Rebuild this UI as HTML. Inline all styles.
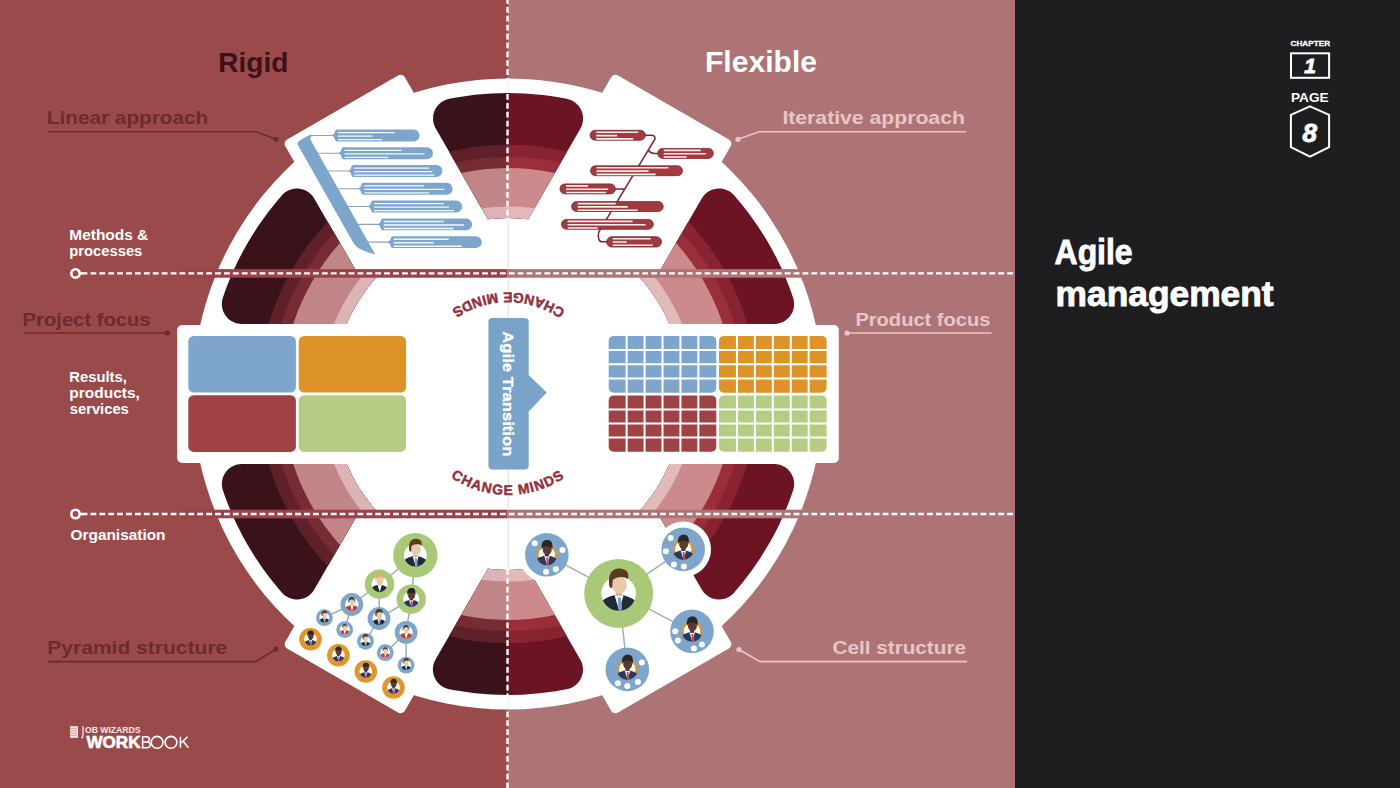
<!DOCTYPE html>
<html><head><meta charset="utf-8">
<style>
html,body{margin:0;padding:0;width:1400px;height:788px;overflow:hidden;background:#1e1e20}
svg{display:block}
text{font-family:"Liberation Sans",sans-serif;font-weight:bold}
</style></head>
<body>
<svg width="1400" height="788" viewBox="0 0 1400 788">
<defs>
<clipPath id="pc"><circle cx="0" cy="0" r="10"/></clipPath>
<g id="p_light">
<g clip-path="url(#pc)"><path d="M-11 14L-11 6C-9.5 3.4-6 1.8-2.6 1L2.6 1C6 1.8 9.5 3.4 11 6L11 14Z" fill="#1f2a38"/>
<path d="M-2.4 1L0.3 10L2.8 1Z" fill="#fff"/><path d="M-0.6 2.4L1.2 2.4L2 8.5L1 11L-0.2 8.5Z" fill="#7e9fbf"/></g>
<rect x="-1.8" y="-2" width="3.8" height="3.4" fill="#d9b596"/>
<ellipse cx="0.4" cy="-5" rx="4.3" ry="5" fill="#e8caa9"/>
<path d="M-5.2-3.5C-6.8-12-3-14.6 0.5-14.4C4.5-14.2 6.2-12 5.4-8.3C3-10-1-10-3.4-7.8L-3.8-3Z" fill="#5c3a22"/>
</g>
<g id="p_blond">
<g clip-path="url(#pc)"><path d="M-11 14L-11 6C-9.5 3.4-6 1.8-2.6 1L2.6 1C6 1.8 9.5 3.4 11 6L11 14Z" fill="#1f2a38"/>
<path d="M-2.4 1L0.3 10L2.8 1Z" fill="#fff"/></g>
<rect x="-1.8" y="-2" width="3.8" height="3.4" fill="#d9b596"/>
<ellipse cx="0.4" cy="-5" rx="4.3" ry="5" fill="#e8caa9"/>
<path d="M-5-4C-6.5-12-3-14.4 0.5-14.2C4.5-14 6.2-12 5.2-6C3-10-1-10-3.4-7.8Z" fill="#d9b272"/>
</g>
<g id="p_dark">
<g clip-path="url(#pc)"><path d="M-11 14L-11 6C-9.5 3.4-6 1.8-2.6 1L2.6 1C6 1.8 9.5 3.4 11 6L11 14Z" fill="#2b3a5c"/>
<path d="M-2.4 1L0.3 10L2.8 1Z" fill="#fff"/><path d="M-0.6 2.4L1.2 2.4L2 8.5L1 11L-0.2 8.5Z" fill="#c24a56"/></g>
<rect x="-1.8" y="-2" width="3.8" height="3.4" fill="#4a3028"/>
<ellipse cx="0.4" cy="-5" rx="4.3" ry="5" fill="#5c3b2e"/>
<path d="M-4.8-5C-5.8-12.5-2.5-14 0.5-14C4-14 6-12 5.3-5C4.4-9.5-3.6-9.5-4.8-5Z" fill="#2a2624"/>
</g>
<g id="p_red">
<g clip-path="url(#pc)"><path d="M-11 14L-11 6C-9.5 3.4-6 1.8-2.6 1L2.6 1C6 1.8 9.5 3.4 11 6L11 14Z" fill="#b8433f"/>
<path d="M-2.4 1L0.3 10L2.8 1Z" fill="#fff"/></g>
<rect x="-1.8" y="-2" width="3.8" height="3.4" fill="#d9b596"/>
<ellipse cx="0.4" cy="-5" rx="4.3" ry="5" fill="#e8caa9"/>
<path d="M-5.2-2C-7-13 5.5-15 5.4-2C4-10-3.8-10-5.2-2Z" fill="#3a2a24"/>
</g>
</defs>
<rect x="0" y="0" width="507.5" height="788" fill="#9a4a4b"/>
<rect x="507.5" y="0" width="507.5" height="788" fill="#ae7475"/>
<rect x="1015" y="0" width="385" height="788" fill="#1e1e20"/>
<circle cx="508" cy="394" r="315.5" fill="#fff"/>
<path fill="#3a131a" d="M313.77 197.64 L312.02 195.31 L309.19 192.64 L305.9 190.58 L302.27 189.19 L298.45 188.52 L295.53 188.52 L291.7 189.17 L288.07 190.55 L285.56 192.04 L283.29 193.87 L277.72 200.16 L268.42 211.79 L258.72 225.29 L252.75 234.48 L247.91 242.49 L242.57 252.06 L238.29 260.37 L233.6 270.28 L229.89 278.87 L225.88 289.07 L222.58 298.48 L221.98 301.34 L221.84 305.22 L222.23 308.12 L223.04 310.92 L224.25 313.58 L225.83 316.03 L228.46 318.9 L230.77 320.68 L233.32 322.11 L236.04 323.15 L240.83 323.98 L346.52 324 L349.83 316.8 L353.29 310.08 L357.04 303.52 L361.06 297.12 L365.36 290.9 L369.92 284.87 L374.73 279.04 L379.81 273.4 L357.54 273.4ZM379.25 514 L373.33 507.31 L368.59 501.43 L360.47 489.98 L356.49 483.55 L352.78 476.97 L346.52 464 L241.8 464 L238.89 464.21 L236.04 464.85 L233.32 465.89 L230.77 467.32 L228.46 469.1 L226.43 471.2 L224.73 473.58 L223.04 477.08 L222.23 479.88 L221.82 484.72 L222.33 488.58 L224.57 495.35 L227.86 504.11 L232.8 515.92 L237.53 526.08 L243.39 537.46 L248.85 547.1 L255.66 558.09 L262.94 568.77 L269.61 577.77 L277.72 587.84 L282.6 593.45 L284.77 595.39 L288.95 597.86 L292.64 599.06 L295.53 599.48 L298.45 599.48 L303.21 598.53 L305.9 597.42 L308.41 595.93 L310.67 594.09 L312.64 591.94 L314.28 589.53 L357.89 514ZM445.3 99.97 L441.08 102.36 L438.2 104.96 L435.88 108.06 L434.2 111.56 L433.22 115.31 L433.05 120.15 L433.75 123.97 L435.18 127.57 L487.92 219.15 L497.21 218.33 L507.5 218 L507.5 93 L491.32 93.46 L474.76 94.84 L456.48 97.44 L449.01 98.84ZM433.92 663.07 L433.03 666.84 L432.85 669.75 L433.26 673.61 L434.42 677.31 L436.27 680.73 L438.74 683.72 L441.75 686.17 L445.17 688 L448.88 689.14 L456.48 690.56 L474.76 693.16 L491.32 694.54 L507.5 695 L507.5 570 L497.21 569.67 L487.88 568.85 L435.52 659.53Z"/>
<path fill="#6c1424" d="M731.23 192.61 L728.79 191.01 L725.23 189.45 L721.44 188.61 L718.53 188.47 L714.67 188.95 L711.88 189.79 L708.4 191.53 L706.05 193.26 L703.98 195.31 L701.72 198.47 L658.46 273.4 L636.19 273.4 L641.27 279.04 L646.08 284.87 L650.64 290.9 L654.94 297.12 L658.96 303.52 L662.71 310.08 L666.17 316.8 L669.48 324 L776.14 323.91 L780.88 322.85 L783.56 321.68 L786.03 320.12 L789.57 316.8 L792.2 312.71 L793.27 310 L794.08 306.2 L794.12 302.31 L793.42 298.48 L789.51 287.45 L785.4 277.16 L780.91 267.03 L776.05 257.07 L771.67 248.81 L766.21 239.31 L760.34 229.91 L755.12 222.14 L748.7 213.26 L741.88 204.53 L734.06 195.27ZM703.98 592.69 L706.81 595.36 L709.24 596.97 L711.88 598.21 L715.62 599.24 L719.5 599.53 L723.36 599.06 L726.15 598.23 L729.63 596.5 L733.4 593.45 L743.04 582.03 L751.98 570.28 L760.34 558.09 L769.93 542.31 L775.15 532.68 L779.28 524.42 L786.81 507.42 L790.16 498.82 L793.42 489.52 L794.12 485.69 L794.16 482.78 L793.77 479.88 L792.96 477.08 L791.27 473.58 L789.57 471.2 L787.54 469.1 L785.23 467.32 L782.68 465.89 L779.96 464.85 L775.17 464.02 L669.48 464 L663.22 476.97 L659.51 483.55 L655.53 489.98 L651.27 496.22 L646.75 502.28 L641.97 508.14 L636.75 514 L658.11 514 L701.72 589.53ZM507.1 218 L517.71 218.27 L528.12 219.15 L580.48 128.47 L582.08 124.93 L582.97 121.16 L583.12 117.28 L582.25 112.51 L580.74 108.94 L578.57 105.72 L575.81 102.98 L572.59 100.83 L569.92 99.65 L566.66 98.77 L555.76 96.81 L543.07 95.05 L524.68 93.46 L507.1 93ZM507.1 695 L522.83 694.63 L539.28 693.37 L555.76 691.19 L568.87 688.69 L571.59 687.63 L574.12 686.2 L576.42 684.41 L578.43 682.31 L580.12 679.94 L581.45 677.35 L582.78 672.69 L583.03 669.79 L582.85 666.88 L581.96 663.11 L580.82 660.43 L528.08 568.85 L517.71 569.73 L507.1 570Z"/>
<path fill="#60202a" d="M327.74 221.79 L317.24 233.49 L307.76 245.49 L299.87 256.77 L291.85 269.79 L284.64 283.28 L278.86 295.78 L273.27 310.01 L268.73 324 L346.52 324 L349.83 316.8 L353.29 310.08 L357.04 303.52 L361.06 297.12 L365.36 290.9 L369.92 284.87 L374.73 279.04 L379.81 273.4 L357.54 273.4ZM379.25 514 L373.33 507.31 L368.59 501.43 L360.47 489.98 L356.49 483.55 L352.78 476.97 L346.52 464 L268.73 464 L273.27 477.99 L278.86 492.22 L284.64 504.72 L291.85 518.21 L299.87 531.23 L308.68 543.73 L318.23 555.67 L327.74 566.21 L357.89 514ZM487.92 219.15 L498.29 218.27 L507.5 218 L507.5 144.7 L492.71 145.17 L477.48 146.57 L463.87 148.64 L449.09 151.76ZM507.5 570 L497.21 569.67 L487.88 568.85 L448.99 636.21 L463.87 639.36 L477.48 641.43 L492.71 642.83 L507.5 643.3Z"/>
<path fill="#882431" d="M636.19 273.4 L641.27 279.04 L646.08 284.87 L650.64 290.9 L654.94 297.12 L658.96 303.52 L662.71 310.08 L666.17 316.8 L669.48 324 L747.27 324 L742.73 310.01 L737.14 295.78 L730.68 281.91 L724.15 269.79 L716.13 256.77 L707.32 244.27 L697.77 232.33 L688.26 221.79 L658.46 273.4ZM669.48 464 L666.17 471.2 L662.71 477.92 L658.96 484.48 L654.94 490.88 L650.64 497.1 L646.08 503.13 L636.75 514 L658.11 514 L688.26 566.21 L697.77 555.67 L707.32 543.73 L716.13 531.23 L724.15 518.21 L731.36 504.72 L737.14 492.22 L742.73 477.99 L747.27 464ZM507.1 218 L517.71 218.27 L528.12 219.15 L567.01 151.79 L552.13 148.64 L537 146.39 L521.76 145.08 L507.1 144.7ZM528.08 568.85 L517.71 569.73 L507.1 570 L507.1 643.3 L521.76 642.92 L537 641.61 L552.13 639.36 L566.91 636.24Z"/>
<path fill="#772c34" d="M334.11 232.82 L324.72 243.59 L316.7 253.93 L309.26 264.7 L302.42 275.87 L296.22 287.4 L290.66 299.25 L285.76 311.39 L281.47 324 L346.52 324 L349.83 316.8 L353.29 310.08 L357.04 303.52 L361.06 297.12 L365.36 290.9 L369.92 284.87 L374.73 279.04 L379.81 273.4 L357.54 273.4ZM379.25 514 L373.33 507.31 L368.59 501.43 L360.47 489.98 L356.49 483.55 L352.78 476.97 L346.52 464 L281.47 464 L285.76 476.61 L290.66 488.75 L296.22 500.6 L302.42 512.13 L309.26 523.3 L316.7 534.07 L324.72 544.41 L334.11 555.18 L357.89 514ZM487.92 219.15 L498.29 218.27 L507.5 218 L507.5 156.9 L494.91 157.26 L481.87 158.34 L468.9 160.15 L455.45 162.8ZM507.5 570 L497.21 569.67 L487.88 568.85 L455.36 625.18 L468.9 627.85 L481.87 629.66 L494.91 630.74 L507.5 631.1Z"/>
<path fill="#9b2f39" d="M636.19 273.4 L641.27 279.04 L646.08 284.87 L650.64 290.9 L654.94 297.12 L658.96 303.52 L662.71 310.08 L666.17 316.8 L669.48 324 L734.53 324 L730.24 311.39 L725.34 299.25 L719.78 287.4 L713.58 275.87 L706.74 264.7 L699.3 253.93 L691.28 243.59 L681.89 232.82 L658.46 273.4ZM669.48 464 L666.17 471.2 L662.71 477.92 L658.96 484.48 L654.94 490.88 L650.64 497.1 L646.08 503.13 L636.75 514 L658.11 514 L681.89 555.18 L691.28 544.41 L699.3 534.07 L706.74 523.3 L713.58 512.13 L719.78 500.6 L725.34 488.75 L730.24 476.61 L734.53 464ZM507.1 218 L517.71 218.27 L528.12 219.15 L560.64 162.82 L547.1 160.15 L534.13 158.34 L521.09 157.26 L507.1 156.9ZM528.08 568.85 L517.71 569.73 L507.1 570 L507.1 631.1 L521.09 630.74 L534.13 629.66 L547.1 627.85 L560.55 625.2Z"/>
<path fill="#c28587" d="M339.99 243 L331.63 252.84 L324.92 261.67 L317.89 271.98 L312.13 281.45 L306.85 291.2 L301.48 302.46 L297.24 312.7 L293.22 324 L346.52 324 L349.83 316.8 L353.29 310.08 L357.04 303.52 L361.06 297.12 L365.36 290.9 L369.92 284.87 L374.73 279.04 L379.81 273.4 L357.54 273.4ZM379.25 514 L373.33 507.31 L368.59 501.43 L360.47 489.98 L356.49 483.55 L352.78 476.97 L346.52 464 L293.22 464 L297.24 475.3 L301.48 485.54 L306.85 496.8 L312.13 506.55 L318.65 517.19 L324.92 526.33 L332.5 536.24 L339.99 545 L357.89 514ZM487.92 219.15 L498.29 218.27 L507.5 218 L507.5 168.1 L495.53 168.44 L484.48 169.33 L473.48 170.75 L461.31 172.98ZM507.5 570 L497.21 569.67 L487.88 568.85 L461.23 615.01 L473.48 617.25 L484.48 618.67 L495.53 619.56 L507.5 619.9Z"/>
<path fill="#cd8a8c" d="M636.19 273.4 L641.27 279.04 L646.08 284.87 L650.64 290.9 L654.94 297.12 L658.96 303.52 L662.71 310.08 L666.17 316.8 L669.48 324 L722.78 324 L718.76 312.7 L714.52 302.46 L709.15 291.2 L703.87 281.45 L698.11 271.98 L691.08 261.67 L683.5 251.76 L676.01 243 L658.46 273.4ZM669.48 464 L666.17 471.2 L662.71 477.92 L658.96 484.48 L654.94 490.88 L650.64 497.1 L646.08 503.13 L636.75 514 L658.11 514 L676.01 545 L683.5 536.24 L691.08 526.33 L698.11 516.02 L703.87 506.55 L709.15 496.8 L714.52 485.54 L718.76 475.3 L722.78 464ZM507.1 218 L517.71 218.27 L528.12 219.15 L554.77 172.99 L542.52 170.75 L531.52 169.33 L519.08 168.37 L507.1 168.1ZM528.08 568.85 L517.71 569.73 L507.1 570 L507.1 619.9 L519.08 619.63 L531.52 618.67 L542.52 617.25 L554.69 615.02Z"/>
<path fill="#dcb3b6" d="M346.52 324 L349.83 316.8 L353.29 310.08 L357.04 303.52 L361.06 297.12 L365.36 290.9 L369.92 284.87 L374.73 279.04 L379.81 273.4 L364.3 273.4 L357.32 282.25 L351.38 290.73 L346.5 298.54 L342.01 306.58 L337.92 314.83 L333.95 324ZM379.25 514 L373.33 507.31 L368.59 501.43 L360.47 489.98 L356.49 483.55 L352.78 476.97 L346.52 464 L333.95 464 L339.92 477.32 L347.09 490.45 L355.29 502.96 L363.8 514ZM487.92 219.15 L498.29 218.27 L507.5 218 L507.5 206.4 L494.2 206.91 L481.64 208.26ZM507.5 570 L497.21 569.67 L487.88 568.85 L481.6 579.73 L494.2 581.09 L507.5 581.6Z"/>
<path fill="#e2babc" d="M636.21 273.43 L641.27 279.04 L646.08 284.87 L650.64 290.9 L654.94 297.12 L658.96 303.52 L662.71 310.08 L666.17 316.8 L669.48 324 L682.05 324 L676.08 310.68 L668.91 297.55 L660.71 285.04 L651.7 273.4ZM669.48 464 L666.17 471.2 L662.71 477.92 L658.96 484.48 L654.94 490.88 L650.64 497.1 L646.08 503.13 L636.75 514 L652.2 514 L658.68 505.75 L664.62 497.27 L669.5 489.46 L673.99 481.42 L678.08 473.17 L682.05 464ZM507.1 218 L517.71 218.27 L528.12 219.15 L534.4 208.27 L520.65 206.83 L507.1 206.4ZM528.08 568.85 L517.71 569.73 L507.1 570 L507.1 581.6 L520.65 581.17 L534.36 579.74Z"/>
<clipPath id="ctop"><rect x="0" y="0" width="1400" height="274.4"/></clipPath><clipPath id="cbot"><rect x="0" y="513" width="1400" height="400"/></clipPath><rect transform="translate(508 394) rotate(0)" x="140" y="-69" width="190.8" height="138" rx="5" fill="#fff"/><rect transform="translate(508 394) rotate(-180)" x="140" y="-69" width="190.8" height="138" rx="5" fill="#fff"/><g clip-path="url(#ctop)"><rect transform="translate(508 394) rotate(-60)" x="140" y="-69" width="190.8" height="138" rx="5" fill="#fff"/><rect transform="translate(508 394) rotate(-120)" x="140" y="-69" width="190.8" height="138" rx="5" fill="#fff"/></g><g clip-path="url(#cbot)"><rect transform="translate(508 394) rotate(-240)" x="140" y="-69" width="190.8" height="138" rx="5" fill="#fff"/><rect transform="translate(508 394) rotate(-300)" x="140" y="-69" width="190.8" height="138" rx="5" fill="#fff"/></g>
<path d="M508.3 79V93M508.3 219V569M508.3 695V709" stroke="#e5dcdd" stroke-width="1"/>
<path fill="#fff" d="M506.3 -2v5.8h2.4v-5.8zM506.3 6.9v5.8h2.4v-5.8zM506.3 15.8v5.8h2.4v-5.8zM506.3 24.7v5.8h2.4v-5.8zM506.3 33.6v5.8h2.4v-5.8zM506.3 42.5v5.8h2.4v-5.8zM506.3 51.4v5.8h2.4v-5.8zM506.3 60.3v5.8h2.4v-5.8zM506.3 69.2v5.8h2.4v-5.8zM506.3 78.1v5.8h2.4v-5.8zM506.3 87v5h2.4v-5z"/>
<path fill="#fff" d="M506.3 94v5.8h2.4v-5.8zM506.3 102.9v5.8h2.4v-5.8zM506.3 111.8v5.8h2.4v-5.8zM506.3 120.7v5.8h2.4v-5.8zM506.3 129.6v5.8h2.4v-5.8zM506.3 138.5v5.8h2.4v-5.8zM506.3 147.4v5.8h2.4v-5.8zM506.3 156.3v5.8h2.4v-5.8zM506.3 165.2v5.8h2.4v-5.8zM506.3 174.1v5.8h2.4v-5.8zM506.3 183v5.8h2.4v-5.8zM506.3 191.9v5.8h2.4v-5.8zM506.3 200.8v5.8h2.4v-5.8zM506.3 209.7v5.8h2.4v-5.8zM506.3 218.6v1.4h2.4v-1.4z"/>
<path fill="#fff" d="M506.3 569v5.8h2.4v-5.8zM506.3 577.9v5.8h2.4v-5.8zM506.3 586.8v5.8h2.4v-5.8zM506.3 595.7v5.8h2.4v-5.8zM506.3 604.6v5.8h2.4v-5.8zM506.3 613.5v5.8h2.4v-5.8zM506.3 622.4v5.8h2.4v-5.8zM506.3 631.3v5.8h2.4v-5.8zM506.3 640.2v5.8h2.4v-5.8zM506.3 649.1v5.8h2.4v-5.8zM506.3 658v5.8h2.4v-5.8zM506.3 666.9v5.8h2.4v-5.8zM506.3 675.8v5.8h2.4v-5.8zM506.3 684.7v5.8h2.4v-5.8zM506.3 693.6v5.8h2.4v-5.8zM506.3 702.5v5.8h2.4v-5.8zM506.3 711.4v5.8h2.4v-5.8zM506.3 720.3v5.8h2.4v-5.8zM506.3 729.2v5.8h2.4v-5.8zM506.3 738.1v5.8h2.4v-5.8zM506.3 747v5.8h2.4v-5.8zM506.3 755.9v5.8h2.4v-5.8zM506.3 764.8v5.8h2.4v-5.8zM506.3 773.7v5.8h2.4v-5.8zM506.3 782.6v5.8h2.4v-5.8z"/>
<rect x="188.3" y="335.9" width="107.6" height="56.7" rx="5.5" fill="#7ea6cc"/>
<rect x="298.7" y="335.9" width="107.4" height="56.7" rx="5.5" fill="#de9329"/>
<rect x="188.3" y="395.2" width="107.6" height="56.7" rx="5.5" fill="#a04244"/>
<rect x="298.7" y="395.2" width="107.4" height="56.7" rx="5.5" fill="#b6cc85"/>
<rect x="608.7" y="335.9" width="107.6" height="56.9" rx="5" fill="#7ea6cc"/>
<path fill="#fff" d="M625.63 335.4h2v57.9h-2zM643.57 335.4h2v57.9h-2zM661.5 335.4h2v57.9h-2zM679.43 335.4h2v57.9h-2zM697.37 335.4h2v57.9h-2zM608.2 349.12h108.6v2h-108.6zM608.2 363.35h108.6v2h-108.6zM608.2 377.57h108.6v2h-108.6z"/>
<rect x="719" y="335.9" width="107.6" height="56.9" rx="5" fill="#de9329"/>
<path fill="#fff" d="M735.93 335.4h2v57.9h-2zM753.87 335.4h2v57.9h-2zM771.8 335.4h2v57.9h-2zM789.73 335.4h2v57.9h-2zM807.67 335.4h2v57.9h-2zM718.5 349.12h108.6v2h-108.6zM718.5 363.35h108.6v2h-108.6zM718.5 377.57h108.6v2h-108.6z"/>
<rect x="608.7" y="395.4" width="107.6" height="56.3" rx="5" fill="#a04244"/>
<path fill="#fff" d="M625.63 394.9h2v57.3h-2zM643.57 394.9h2v57.3h-2zM661.5 394.9h2v57.3h-2zM679.43 394.9h2v57.3h-2zM697.37 394.9h2v57.3h-2zM608.2 408.47h108.6v2h-108.6zM608.2 422.55h108.6v2h-108.6zM608.2 436.62h108.6v2h-108.6z"/>
<rect x="719" y="395.4" width="107.6" height="56.3" rx="5" fill="#b6cc85"/>
<path fill="#fff" d="M735.93 394.9h2v57.3h-2zM753.87 394.9h2v57.3h-2zM771.8 394.9h2v57.3h-2zM789.73 394.9h2v57.3h-2zM807.67 394.9h2v57.3h-2zM718.5 408.47h108.6v2h-108.6zM718.5 422.55h108.6v2h-108.6zM718.5 436.62h108.6v2h-108.6z"/>
<path d="M309 135.45H332.6M317.13 153.23H339.2M327.17 171.01H349M337.22 188.79H358.9M347.26 206.57H368.7M357.31 224.35H378.5M367.36 242.13H388.4" stroke="#8d9fb5" stroke-width="1.1" fill="none"/>
<path fill="#7ea6cc" d="M353.62 243.3 L298 145.2 Q296.6 142.4 299.4 140.8 L306.6 136.6 Q309 135 311 135 L312.5 135 L312.5 136.1 Q308.67 136.4 311.5 141.5 L375.3 254.4 C366 252 357 249 353.62 243.3Z"/>
<path fill="#7ea6cc" d="M332.1 134.9 C334.9 134.85 334.7 129.5 336.7 129.5 L413.65 129.5 A5.95 5.95 0 0 1 413.65 141.4 L336.7 141.4 C334.7 141.4 334.9 136.05 332.1 136 Z"/>
<path fill="#f4f8fc" d="M337.9 131.9h57v1.35h-57zM337.9 135.4h34.5v1.35h-34.5zM337.9 138.9h44v1.35h-44z"/>
<path fill="#7ea6cc" d="M338.7 152.68 C341.5 152.63 341.3 147.28 343.3 147.28 L427.05 147.28 A5.95 5.95 0 0 1 427.05 159.18 L343.3 159.18 C341.3 159.18 341.5 153.83 338.7 153.78 Z"/>
<path fill="#f4f8fc" d="M344.5 149.68h57v1.35h-57zM344.5 153.18h80v1.35h-80zM344.5 156.68h44v1.35h-44z"/>
<path fill="#7ea6cc" d="M348.5 170.46 C351.3 170.41 351.1 165.06 353.1 165.06 L436.45 165.06 A5.95 5.95 0 0 1 436.45 176.96 L353.1 176.96 C351.1 176.96 351.3 171.61 348.5 171.56 Z"/>
<path fill="#f4f8fc" d="M354.3 167.46h75v1.35h-75zM354.3 170.96h78v1.35h-78zM354.3 174.46h80v1.35h-80z"/>
<path fill="#7ea6cc" d="M358.4 188.24 C361.2 188.19 361 182.84 363 182.84 L446.65 182.84 A5.95 5.95 0 0 1 446.65 194.74 L363 194.74 C361 194.74 361.2 189.39 358.4 189.34 Z"/>
<path fill="#f4f8fc" d="M364.2 185.24h60v1.35h-60zM364.2 188.74h80v1.35h-80zM364.2 192.24h65v1.35h-65z"/>
<path fill="#7ea6cc" d="M368.2 206.02 C371 205.97 370.8 200.62 372.8 200.62 L456.25 200.62 A5.95 5.95 0 0 1 456.25 212.52 L372.8 212.52 C370.8 212.52 371 207.17 368.2 207.12 Z"/>
<path fill="#f4f8fc" d="M374 203.02h70v1.35h-70zM374 206.52h75v1.35h-75zM374 210.02h80v1.35h-80z"/>
<path fill="#7ea6cc" d="M378 223.8 C380.8 223.75 380.6 218.4 382.6 218.4 L466.15 218.4 A5.95 5.95 0 0 1 466.15 230.3 L382.6 230.3 C380.6 230.3 380.8 224.95 378 224.9 Z"/>
<path fill="#f4f8fc" d="M383.8 220.8h60v1.35h-60zM383.8 224.3h80v1.35h-80zM383.8 227.8h70v1.35h-70z"/>
<path fill="#7ea6cc" d="M387.9 241.58 C390.7 241.53 390.5 236.18 392.5 236.18 L475.85 236.18 A5.95 5.95 0 0 1 475.85 248.08 L392.5 248.08 C390.5 248.08 390.7 242.73 387.9 242.68 Z"/>
<path fill="#f4f8fc" d="M393.7 238.58h55v1.35h-55zM393.7 242.08h40v1.35h-40zM393.7 245.58h68v1.35h-68z"/>
<path fill="none" stroke="#7c2630" stroke-width="1.5" d="M645 135.2 L651 135.2 Q655.5 135.2 655 139 L598.74 232 Q596.74 241.8 602.74 241.8 L607 241.8 M648.35 150 Q650.35 153.4 654.35 153.4 L658 153.4 M624.81 188.9 L615 188.9"/>
<rect x="590.1" y="130.3" width="55.3" height="9.9" rx="4.95" fill="#a23a3e" stroke="#7c2630" stroke-width="0.8"/>
<path fill="#fbeeee" d="M596.2 131.5h42v1.6h-42zM596.2 134.8h21v1.6h-21zM596.2 138.1h37v1.6h-37z"/>
<rect x="657.7" y="148.4" width="55.6" height="10" rx="5" fill="#a23a3e" stroke="#7c2630" stroke-width="0.8"/>
<path fill="#fbeeee" d="M663.8 149.6h37v1.6h-37zM663.8 152.9h42v1.6h-42zM663.8 156.2h23v1.6h-23z"/>
<rect x="590.5" y="165.8" width="92" height="9.9" rx="4.95" fill="#a23a3e" stroke="#7c2630" stroke-width="0.8"/>
<path fill="#fbeeee" d="M596.6 167h72v1.6h-72zM596.6 170.3h52v1.6h-52zM596.6 173.6h59v1.6h-59z"/>
<rect x="560" y="183.9" width="55.3" height="10" rx="5" fill="#a23a3e" stroke="#7c2630" stroke-width="0.8"/>
<path fill="#fbeeee" d="M566.1 185.1h22v1.6h-22zM566.1 188.4h42v1.6h-42zM566.1 191.7h40v1.6h-40z"/>
<rect x="571.6" y="201.6" width="91.6" height="9.9" rx="4.95" fill="#a23a3e" stroke="#7c2630" stroke-width="0.8"/>
<path fill="#fbeeee" d="M577.7 202.8h38v1.6h-38zM577.7 206.1h50v1.6h-50zM577.7 209.4h60v1.6h-60z"/>
<rect x="561.5" y="219.4" width="91.8" height="9.9" rx="4.95" fill="#a23a3e" stroke="#7c2630" stroke-width="0.8"/>
<path fill="#fbeeee" d="M567.6 220.6h65v1.6h-65zM567.6 223.9h78v1.6h-78zM567.6 227.2h30v1.6h-30z"/>
<rect x="606.6" y="236.7" width="54.9" height="10.3" rx="5.15" fill="#a23a3e" stroke="#7c2630" stroke-width="0.8"/>
<path fill="#fbeeee" d="M612.7 237.9h38v1.6h-38zM612.7 241.2h14v1.6h-14zM612.7 244.5h40v1.6h-40z"/>
<rect x="180" y="269.1" width="327.5" height="8.6" fill="#9b4249"/>
<rect x="507.5" y="269.1" width="342.5" height="8.6" fill="#ae7475"/>
<path fill="#fff" d="M81.6 272.2h5.8v2.4h-5.8zM90.5 272.2h5.8v2.4h-5.8zM99.4 272.2h5.8v2.4h-5.8zM108.3 272.2h5.8v2.4h-5.8zM117.2 272.2h5.8v2.4h-5.8zM126.1 272.2h5.8v2.4h-5.8zM135 272.2h5.8v2.4h-5.8zM143.9 272.2h5.8v2.4h-5.8zM152.8 272.2h5.8v2.4h-5.8zM161.7 272.2h5.8v2.4h-5.8zM170.6 272.2h5.8v2.4h-5.8zM179.5 272.2h5.8v2.4h-5.8zM188.4 272.2h5.8v2.4h-5.8zM197.3 272.2h5.8v2.4h-5.8zM206.2 272.2h5.8v2.4h-5.8zM215.1 272.2h5.8v2.4h-5.8zM224 272.2h5.8v2.4h-5.8zM232.9 272.2h5.8v2.4h-5.8zM241.8 272.2h5.8v2.4h-5.8zM250.7 272.2h5.8v2.4h-5.8zM259.6 272.2h5.8v2.4h-5.8zM268.5 272.2h5.8v2.4h-5.8zM277.4 272.2h5.8v2.4h-5.8zM286.3 272.2h5.8v2.4h-5.8zM295.2 272.2h5.8v2.4h-5.8zM304.1 272.2h5.8v2.4h-5.8zM313 272.2h5.8v2.4h-5.8zM321.9 272.2h5.8v2.4h-5.8zM330.8 272.2h5.8v2.4h-5.8zM339.7 272.2h5.8v2.4h-5.8zM348.6 272.2h5.8v2.4h-5.8zM357.5 272.2h5.8v2.4h-5.8zM366.4 272.2h5.8v2.4h-5.8zM375.3 272.2h5.8v2.4h-5.8zM384.2 272.2h5.8v2.4h-5.8zM393.1 272.2h5.8v2.4h-5.8zM402 272.2h5.8v2.4h-5.8zM410.9 272.2h5.8v2.4h-5.8zM419.8 272.2h5.8v2.4h-5.8zM428.7 272.2h5.8v2.4h-5.8zM437.6 272.2h5.8v2.4h-5.8zM446.5 272.2h5.8v2.4h-5.8zM455.4 272.2h5.8v2.4h-5.8zM464.3 272.2h5.8v2.4h-5.8zM473.2 272.2h5.8v2.4h-5.8zM482.1 272.2h5.8v2.4h-5.8zM491 272.2h5.8v2.4h-5.8zM499.9 272.2h5.8v2.4h-5.8zM508.8 272.2h5.8v2.4h-5.8zM517.7 272.2h5.8v2.4h-5.8zM526.6 272.2h5.8v2.4h-5.8zM535.5 272.2h5.8v2.4h-5.8zM544.4 272.2h5.8v2.4h-5.8zM553.3 272.2h5.8v2.4h-5.8zM562.2 272.2h5.8v2.4h-5.8zM571.1 272.2h5.8v2.4h-5.8zM580 272.2h5.8v2.4h-5.8zM588.9 272.2h5.8v2.4h-5.8zM597.8 272.2h5.8v2.4h-5.8zM606.7 272.2h5.8v2.4h-5.8zM615.6 272.2h5.8v2.4h-5.8zM624.5 272.2h5.8v2.4h-5.8zM633.4 272.2h5.8v2.4h-5.8zM642.3 272.2h5.8v2.4h-5.8zM651.2 272.2h5.8v2.4h-5.8zM660.1 272.2h5.8v2.4h-5.8zM669 272.2h5.8v2.4h-5.8zM677.9 272.2h5.8v2.4h-5.8zM686.8 272.2h5.8v2.4h-5.8zM695.7 272.2h5.8v2.4h-5.8zM704.6 272.2h5.8v2.4h-5.8zM713.5 272.2h5.8v2.4h-5.8zM722.4 272.2h5.8v2.4h-5.8zM731.3 272.2h5.8v2.4h-5.8zM740.2 272.2h5.8v2.4h-5.8zM749.1 272.2h5.8v2.4h-5.8zM758 272.2h5.8v2.4h-5.8zM766.9 272.2h5.8v2.4h-5.8zM775.8 272.2h5.8v2.4h-5.8zM784.7 272.2h5.8v2.4h-5.8zM793.6 272.2h5.8v2.4h-5.8zM802.5 272.2h5.8v2.4h-5.8zM811.4 272.2h5.8v2.4h-5.8zM820.3 272.2h5.8v2.4h-5.8zM829.2 272.2h5.8v2.4h-5.8zM838.1 272.2h5.8v2.4h-5.8zM847 272.2h5.8v2.4h-5.8zM855.9 272.2h5.8v2.4h-5.8zM864.8 272.2h5.8v2.4h-5.8zM873.7 272.2h5.8v2.4h-5.8zM882.6 272.2h5.8v2.4h-5.8zM891.5 272.2h5.8v2.4h-5.8zM900.4 272.2h5.8v2.4h-5.8zM909.3 272.2h5.8v2.4h-5.8zM918.2 272.2h5.8v2.4h-5.8zM927.1 272.2h5.8v2.4h-5.8zM936 272.2h5.8v2.4h-5.8zM944.9 272.2h5.8v2.4h-5.8zM953.8 272.2h5.8v2.4h-5.8zM962.7 272.2h5.8v2.4h-5.8zM971.6 272.2h5.8v2.4h-5.8zM980.5 272.2h5.8v2.4h-5.8zM989.4 272.2h5.8v2.4h-5.8zM998.3 272.2h5.8v2.4h-5.8zM1007.2 272.2h5.8v2.4h-5.8z"/>
<circle cx="75.5" cy="273.4" r="4.2" fill="none" stroke="#fff" stroke-width="2.6"/>
<rect x="79" y="272.2" width="3" height="2.4" fill="#fff"/>
<rect x="180" y="509.7" width="327.5" height="8.6" fill="#9b4249"/>
<rect x="507.5" y="509.7" width="342.5" height="8.6" fill="#ae7475"/>
<path fill="#fff" d="M81.6 512.8h5.8v2.4h-5.8zM90.5 512.8h5.8v2.4h-5.8zM99.4 512.8h5.8v2.4h-5.8zM108.3 512.8h5.8v2.4h-5.8zM117.2 512.8h5.8v2.4h-5.8zM126.1 512.8h5.8v2.4h-5.8zM135 512.8h5.8v2.4h-5.8zM143.9 512.8h5.8v2.4h-5.8zM152.8 512.8h5.8v2.4h-5.8zM161.7 512.8h5.8v2.4h-5.8zM170.6 512.8h5.8v2.4h-5.8zM179.5 512.8h5.8v2.4h-5.8zM188.4 512.8h5.8v2.4h-5.8zM197.3 512.8h5.8v2.4h-5.8zM206.2 512.8h5.8v2.4h-5.8zM215.1 512.8h5.8v2.4h-5.8zM224 512.8h5.8v2.4h-5.8zM232.9 512.8h5.8v2.4h-5.8zM241.8 512.8h5.8v2.4h-5.8zM250.7 512.8h5.8v2.4h-5.8zM259.6 512.8h5.8v2.4h-5.8zM268.5 512.8h5.8v2.4h-5.8zM277.4 512.8h5.8v2.4h-5.8zM286.3 512.8h5.8v2.4h-5.8zM295.2 512.8h5.8v2.4h-5.8zM304.1 512.8h5.8v2.4h-5.8zM313 512.8h5.8v2.4h-5.8zM321.9 512.8h5.8v2.4h-5.8zM330.8 512.8h5.8v2.4h-5.8zM339.7 512.8h5.8v2.4h-5.8zM348.6 512.8h5.8v2.4h-5.8zM357.5 512.8h5.8v2.4h-5.8zM366.4 512.8h5.8v2.4h-5.8zM375.3 512.8h5.8v2.4h-5.8zM384.2 512.8h5.8v2.4h-5.8zM393.1 512.8h5.8v2.4h-5.8zM402 512.8h5.8v2.4h-5.8zM410.9 512.8h5.8v2.4h-5.8zM419.8 512.8h5.8v2.4h-5.8zM428.7 512.8h5.8v2.4h-5.8zM437.6 512.8h5.8v2.4h-5.8zM446.5 512.8h5.8v2.4h-5.8zM455.4 512.8h5.8v2.4h-5.8zM464.3 512.8h5.8v2.4h-5.8zM473.2 512.8h5.8v2.4h-5.8zM482.1 512.8h5.8v2.4h-5.8zM491 512.8h5.8v2.4h-5.8zM499.9 512.8h5.8v2.4h-5.8zM508.8 512.8h5.8v2.4h-5.8zM517.7 512.8h5.8v2.4h-5.8zM526.6 512.8h5.8v2.4h-5.8zM535.5 512.8h5.8v2.4h-5.8zM544.4 512.8h5.8v2.4h-5.8zM553.3 512.8h5.8v2.4h-5.8zM562.2 512.8h5.8v2.4h-5.8zM571.1 512.8h5.8v2.4h-5.8zM580 512.8h5.8v2.4h-5.8zM588.9 512.8h5.8v2.4h-5.8zM597.8 512.8h5.8v2.4h-5.8zM606.7 512.8h5.8v2.4h-5.8zM615.6 512.8h5.8v2.4h-5.8zM624.5 512.8h5.8v2.4h-5.8zM633.4 512.8h5.8v2.4h-5.8zM642.3 512.8h5.8v2.4h-5.8zM651.2 512.8h5.8v2.4h-5.8zM660.1 512.8h5.8v2.4h-5.8zM669 512.8h5.8v2.4h-5.8zM677.9 512.8h5.8v2.4h-5.8zM686.8 512.8h5.8v2.4h-5.8zM695.7 512.8h5.8v2.4h-5.8zM704.6 512.8h5.8v2.4h-5.8zM713.5 512.8h5.8v2.4h-5.8zM722.4 512.8h5.8v2.4h-5.8zM731.3 512.8h5.8v2.4h-5.8zM740.2 512.8h5.8v2.4h-5.8zM749.1 512.8h5.8v2.4h-5.8zM758 512.8h5.8v2.4h-5.8zM766.9 512.8h5.8v2.4h-5.8zM775.8 512.8h5.8v2.4h-5.8zM784.7 512.8h5.8v2.4h-5.8zM793.6 512.8h5.8v2.4h-5.8zM802.5 512.8h5.8v2.4h-5.8zM811.4 512.8h5.8v2.4h-5.8zM820.3 512.8h5.8v2.4h-5.8zM829.2 512.8h5.8v2.4h-5.8zM838.1 512.8h5.8v2.4h-5.8zM847 512.8h5.8v2.4h-5.8zM855.9 512.8h5.8v2.4h-5.8zM864.8 512.8h5.8v2.4h-5.8zM873.7 512.8h5.8v2.4h-5.8zM882.6 512.8h5.8v2.4h-5.8zM891.5 512.8h5.8v2.4h-5.8zM900.4 512.8h5.8v2.4h-5.8zM909.3 512.8h5.8v2.4h-5.8zM918.2 512.8h5.8v2.4h-5.8zM927.1 512.8h5.8v2.4h-5.8zM936 512.8h5.8v2.4h-5.8zM944.9 512.8h5.8v2.4h-5.8zM953.8 512.8h5.8v2.4h-5.8zM962.7 512.8h5.8v2.4h-5.8zM971.6 512.8h5.8v2.4h-5.8zM980.5 512.8h5.8v2.4h-5.8zM989.4 512.8h5.8v2.4h-5.8zM998.3 512.8h5.8v2.4h-5.8zM1007.2 512.8h5.8v2.4h-5.8z"/>
<circle cx="75.5" cy="514" r="4.2" fill="none" stroke="#fff" stroke-width="2.6"/>
<rect x="79" y="512.8" width="3" height="2.4" fill="#fff"/>
<path d="M415.4 555.2L379.5 584.2M415.4 555.2L411.2 599.2M379.5 584.2L351.8 604.5M379.5 584.2L379 618.5M411.2 599.2L379 618.5M411.2 599.2L406.1 632.4M351.8 604.5L324.4 617.7M351.8 604.5L344.7 629.6M379 618.5L365.5 641.3M406.1 632.4L385.3 652.7M406.1 632.4L406.1 665.2" stroke="#98aab0" stroke-width="1.4" fill="none"/>
<circle cx="415.4" cy="555.2" r="22.2" fill="#a9c878"/><circle cx="415.4" cy="555.2" r="11.4" fill="#fff"/><use href="#p_light" transform="translate(415.4 555.2) scale(1.14)"/>
<circle cx="379.5" cy="584.2" r="14.7" fill="#a9c878"/><circle cx="379.5" cy="584.2" r="8" fill="#fff"/><use href="#p_blond" transform="translate(379.5 584.2) scale(0.8)"/>
<circle cx="411.2" cy="599.2" r="14.7" fill="#a9c878"/><circle cx="411.2" cy="599.2" r="8" fill="#fff"/><use href="#p_dark" transform="translate(411.2 599.2) scale(0.8)"/>
<circle cx="351.8" cy="604.5" r="11.4" fill="#7ea6cc"/><circle cx="351.8" cy="604.5" r="6.6" fill="#fff"/><use href="#p_red" transform="translate(351.8 604.5) scale(0.66)"/>
<circle cx="379" cy="618.5" r="11.4" fill="#7ea6cc"/><circle cx="379" cy="618.5" r="6.6" fill="#fff"/><use href="#p_light" transform="translate(379 618.5) scale(0.66)"/>
<circle cx="406.1" cy="632.4" r="11.4" fill="#7ea6cc"/><circle cx="406.1" cy="632.4" r="6.6" fill="#fff"/><use href="#p_red" transform="translate(406.1 632.4) scale(0.66)"/>
<circle cx="324.4" cy="617.7" r="8.4" fill="#7ea6cc"/><circle cx="324.4" cy="617.7" r="5" fill="#fff"/><use href="#p_light" transform="translate(324.4 617.7) scale(0.5)"/>
<circle cx="344.7" cy="629.6" r="8.4" fill="#7ea6cc"/><circle cx="344.7" cy="629.6" r="5" fill="#fff"/><use href="#p_red" transform="translate(344.7 629.6) scale(0.5)"/>
<circle cx="365.5" cy="641.3" r="8.4" fill="#7ea6cc"/><circle cx="365.5" cy="641.3" r="5" fill="#fff"/><use href="#p_light" transform="translate(365.5 641.3) scale(0.5)"/>
<circle cx="385.3" cy="652.7" r="8.4" fill="#7ea6cc"/><circle cx="385.3" cy="652.7" r="5" fill="#fff"/><use href="#p_red" transform="translate(385.3 652.7) scale(0.5)"/>
<circle cx="406.1" cy="665.2" r="8.4" fill="#7ea6cc"/><circle cx="406.1" cy="665.2" r="5" fill="#fff"/><use href="#p_light" transform="translate(406.1 665.2) scale(0.5)"/>
<circle cx="310.5" cy="639.3" r="11.3" fill="#e0962b"/><circle cx="310.5" cy="639.3" r="6.3" fill="#fff"/><use href="#p_dark" transform="translate(310.5 639.3) scale(0.63)"/>
<circle cx="338.4" cy="655.3" r="11.3" fill="#e0962b"/><circle cx="338.4" cy="655.3" r="6.3" fill="#fff"/><use href="#p_dark" transform="translate(338.4 655.3) scale(0.63)"/>
<circle cx="365.8" cy="671.5" r="11.3" fill="#e0962b"/><circle cx="365.8" cy="671.5" r="6.3" fill="#fff"/><use href="#p_dark" transform="translate(365.8 671.5) scale(0.63)"/>
<circle cx="393.5" cy="687.5" r="11.3" fill="#e0962b"/><circle cx="393.5" cy="687.5" r="6.3" fill="#fff"/><use href="#p_dark" transform="translate(393.5 687.5) scale(0.63)"/>
<circle cx="546.8" cy="554.8" r="27.8" fill="#fff"/>
<circle cx="683.2" cy="549.4" r="27.8" fill="#fff"/>
<circle cx="692" cy="631.3" r="27.8" fill="#fff"/>
<circle cx="627.3" cy="669.4" r="27.8" fill="#fff"/>
<path d="M618.7 593.4L546.8 554.8M618.7 593.4L683.2 549.4M618.7 593.4L692 631.3M618.7 593.4L627.3 669.4" stroke="#9fb3a6" stroke-width="1.5" fill="none"/>
<circle cx="618.7" cy="593.4" r="34.5" fill="#a9c878"/><circle cx="618.7" cy="593.4" r="17.3" fill="#fff"/><use href="#p_light" transform="translate(618.7 593.4) scale(1.73)"/>
<circle cx="546.8" cy="554.8" r="21.8" fill="#7ea6cc"/>
<circle cx="546.8" cy="554.8" r="10.5" fill="#e0962b"/><circle cx="546.8" cy="554.8" r="8.2" fill="#fff"/>
<use href="#p_dark" transform="translate(546.8 554.8) scale(1.05)"/>
<circle cx="534.8" cy="543.3" r="3" fill="#fff"/>
<circle cx="562.5" cy="550" r="3" fill="#fff"/>
<circle cx="546" cy="571.8" r="3" fill="#fff"/>
<circle cx="555.8" cy="569.2" r="3" fill="#fff"/>
<circle cx="683.2" cy="549.4" r="21.8" fill="#7ea6cc"/>
<circle cx="683.2" cy="549.4" r="10.5" fill="#e0962b"/><circle cx="683.2" cy="549.4" r="8.2" fill="#fff"/>
<use href="#p_dark" transform="translate(683.2 549.4) scale(1.05)"/>
<circle cx="670.7" cy="538" r="3" fill="#fff"/>
<circle cx="665.9" cy="551.3" r="3" fill="#fff"/>
<circle cx="673.9" cy="564.6" r="3" fill="#fff"/>
<circle cx="683.8" cy="566.5" r="3" fill="#fff"/>
<circle cx="692" cy="631.3" r="21.8" fill="#7ea6cc"/>
<circle cx="692" cy="631.3" r="10.5" fill="#e0962b"/><circle cx="692" cy="631.3" r="8.2" fill="#fff"/>
<use href="#p_dark" transform="translate(692 631.3) scale(1.05)"/>
<circle cx="675.2" cy="631.3" r="3" fill="#fff"/>
<circle cx="677.9" cy="640.6" r="3" fill="#fff"/>
<circle cx="693.9" cy="648.6" r="3" fill="#fff"/>
<circle cx="701.9" cy="644.6" r="3" fill="#fff"/>
<circle cx="627.3" cy="669.4" r="21.8" fill="#7ea6cc"/>
<circle cx="627.3" cy="669.4" r="10.5" fill="#e0962b"/><circle cx="627.3" cy="669.4" r="8.2" fill="#fff"/>
<use href="#p_dark" transform="translate(627.3 669.4) scale(1.05)"/>
<circle cx="641.9" cy="662.5" r="3" fill="#fff"/>
<circle cx="617.9" cy="683.2" r="3" fill="#fff"/>
<circle cx="627.3" cy="685.9" r="3" fill="#fff"/>
<circle cx="637.9" cy="681.9" r="3" fill="#fff"/>
<!-- center -->
<path d="M492.4 318h32.3a4 4 0 0 1 4 4v52.9l18.1 17.5l-18.1 19v54a4 4 0 0 1-4 4h-32.3a4 4 0 0 1-4-4v-143.4a4 4 0 0 1 4-4z" fill="#7aa3ca"/>
<text transform="translate(502.6 393.8) rotate(90)" font-size="15.5" fill="#fff" stroke="#fff" stroke-width="0.35" text-anchor="middle" textLength="125" lengthAdjust="spacingAndGlyphs">Agile Transition</text>
<path id="arcB" d="M407 394A101 101 0 0 0 609 394" fill="none"/>
<path id="arcT" d="M609 393.5A101 101 0 0 0 407 393.5" fill="none"/>
<text font-size="14" fill="#93303d" stroke="#93303d" stroke-width="0.45" letter-spacing="1.0"><textPath href="#arcB" startOffset="50%" text-anchor="middle">CHANGE MINDS</textPath></text>
<text font-size="14" fill="#93303d" stroke="#93303d" stroke-width="0.45" letter-spacing="1.0"><textPath href="#arcT" startOffset="50%" text-anchor="middle">CHANGE MINDS</textPath></text>
<!-- headings -->
<text x="218.3" y="71.5" font-size="28" fill="#3d1118" textLength="70" lengthAdjust="spacingAndGlyphs">Rigid</text>
<text x="705" y="72.1" font-size="29" fill="#fff" textLength="112" lengthAdjust="spacingAndGlyphs">Flexible</text>
<!-- labels left -->
<g fill="#6e2a31" font-size="18.5">
<text x="46.8" y="124" textLength="161.5" lengthAdjust="spacingAndGlyphs">Linear approach</text>
<text x="22.6" y="325.7" textLength="128" lengthAdjust="spacingAndGlyphs">Project focus</text>
<text x="47.3" y="654.1" textLength="180" lengthAdjust="spacingAndGlyphs">Pyramid structure</text>
</g>
<g stroke="#6e2a31" stroke-width="1.6" fill="none">
<path d="M48 131.8H256L276 139.3"/>
<path d="M24 333H167"/>
<path d="M48 661.6H256L276 649"/>
</g>
<g fill="#6e2a31"><circle cx="276" cy="139.3" r="2.6"/><circle cx="167.4" cy="333" r="2.6"/><circle cx="276" cy="649" r="2.6"/></g>
<!-- labels right -->
<g fill="#e8c5c6" font-size="18.5">
<text x="782.4" y="124" textLength="182.5" lengthAdjust="spacingAndGlyphs">Iterative approach</text>
<text x="855.4" y="325.7" textLength="135" lengthAdjust="spacingAndGlyphs">Product focus</text>
<text x="832.5" y="654.1" textLength="133.5" lengthAdjust="spacingAndGlyphs">Cell structure</text>
</g>
<g stroke="#e8c5c6" stroke-width="1.6" fill="none">
<path d="M966 131.8H759L738 139.3"/>
<path d="M991.6 333H847"/>
<path d="M967 661.6H760L739 649.5"/>
</g>
<g fill="#e8c5c6"><circle cx="738" cy="139.3" r="2.6"/><circle cx="847" cy="333" r="2.6"/><circle cx="739" cy="649.5" r="2.6"/></g>
<!-- small white labels -->
<g fill="#fff" font-size="14">
<text x="69.3" y="240" textLength="79" lengthAdjust="spacingAndGlyphs">Methods &amp;</text>
<text x="69.3" y="255.5" textLength="73" lengthAdjust="spacingAndGlyphs">processes</text>
<text x="69.3" y="382.2" textLength="57.5" lengthAdjust="spacingAndGlyphs">Results,</text>
<text x="69.3" y="398.2" textLength="70.5" lengthAdjust="spacingAndGlyphs">products,</text>
<text x="69.8" y="414.2" textLength="59" lengthAdjust="spacingAndGlyphs">services</text>
<text x="70.5" y="539.5" textLength="95" lengthAdjust="spacingAndGlyphs">Organisation</text>
</g>
<!-- right panel -->
<g fill="#fff">
<text x="1310.3" y="45.6" font-size="7.6" text-anchor="middle" textLength="39.5" lengthAdjust="spacingAndGlyphs" stroke="#fff" stroke-width="0.3">CHAPTER</text>
<text x="1309.8" y="101.6" font-size="13.3" text-anchor="middle" textLength="37.5" lengthAdjust="spacingAndGlyphs">PAGE</text>
<text x="1310" y="72.8" font-size="21" font-style="italic" text-anchor="middle" stroke="#fff" stroke-width="0.9">1</text>
<text x="1309.7" y="142.2" font-size="26" font-style="italic" text-anchor="middle" stroke="#fff" stroke-width="0.9">8</text>
<text x="1054.6" y="263.6" font-size="35" textLength="78" lengthAdjust="spacingAndGlyphs" stroke="#fff" stroke-width="0.9">Agile</text>
<text x="1055.6" y="305.6" font-size="35" textLength="218" lengthAdjust="spacingAndGlyphs" stroke="#fff" stroke-width="0.9">management</text>
</g>
<g fill="none" stroke="#fff" stroke-width="2">
<rect x="1291" y="53.3" width="38.1" height="24.5"/>
<path d="M1310 106.3L1329.1 114.9V147.1L1310 156.6L1290.9 147.1V114.9Z"/>
</g>
<!-- logo -->
<g fill="#fff">
<rect x="70" y="726.2" width="8" height="11.6" fill="#fbe9e9"/>
<path d="M70 728.4h7.2M70 730.7h7.2M70 733h7.2M70 735.3h7.2" stroke="#b86a6c" stroke-width="0.6"/>
<path d="M83 726.2V735.6Q83 737.6 81 737.9" fill="none" stroke="#fbe9e9" stroke-width="1.3"/>
<text x="85" y="732.8" font-size="8.7" font-weight="normal" fill="#fbe9e9" textLength="55.5" lengthAdjust="spacingAndGlyphs">OB WIZARDS</text>
<text x="86.5" y="748" font-size="16.5" font-weight="900" textLength="54" lengthAdjust="spacingAndGlyphs" stroke="#fff" stroke-width="0.6">WORK</text>
<g fill="none" stroke="#fff" stroke-width="1.55">
<path d="M142.6 736.7V747.8H146.6C149 747.8 150.2 746.6 150.2 744.8C150.2 743 149 742 146.6 742H142.6M142.6 736.7H146.3C148.4 736.7 149.4 737.7 149.4 739.3C149.4 740.9 148.4 742 146.3 742"/>
<ellipse cx="157.1" cy="742.3" rx="5.9" ry="5.9"/>
<ellipse cx="171" cy="742.3" rx="5.9" ry="5.9"/>
<path d="M180.4 736.7V747.8M180.4 743.5L187.6 736.7M183 741L188.4 747.8"/>
</g>
</g>
</svg>
</body></html>
